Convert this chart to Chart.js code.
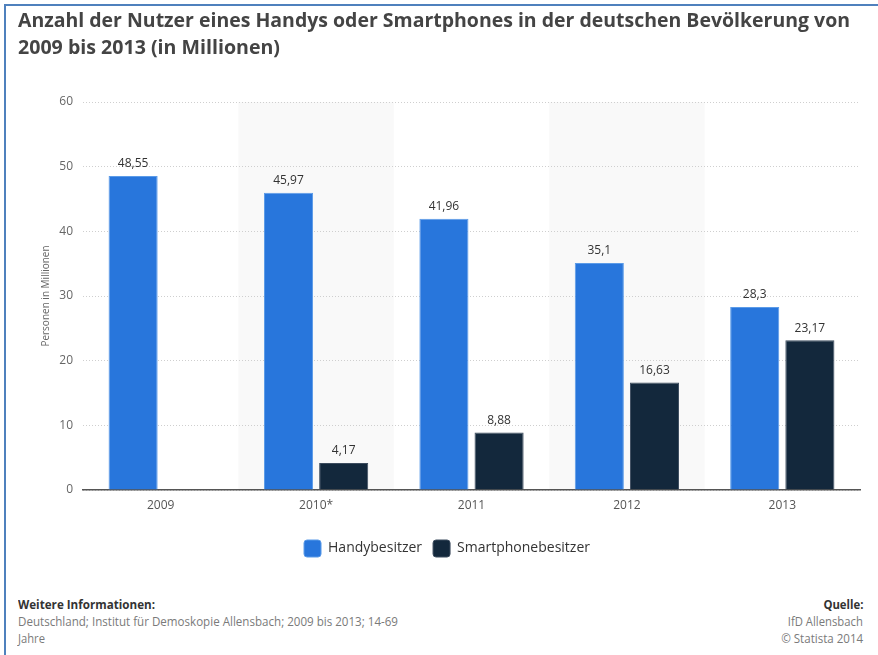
<!DOCTYPE html>
<html>
<head>
<meta charset="utf-8">
<script src="https://cdn.jsdelivr.net/npm/chart.js@4"></script>
<style>
  html,body{margin:0;padding:0;background:#fff;}
  #wrap{position:relative;width:878px;height:655px;overflow:hidden;font-family:"Open Sans",sans-serif;}
  #frame{position:absolute;left:4px;top:4px;right:0;bottom:0;border-top:2px solid #4f81bd;border-left:2px solid #4f81bd;}
  #chartbox{position:absolute;left:0;top:0;width:878px;height:580px;}
  .fit{position:absolute;white-space:nowrap;transform-origin:0 0;}
  .fitr{position:absolute;white-space:nowrap;transform-origin:100% 0;text-align:right;}
  .title{font-weight:bold;font-size:20px;color:#444;}
  .ft{font-size:12px;color:#7a7a7a;}
  .fb{font-size:12px;font-weight:bold;color:#333;}
</style>
</head>
<body>
<div id="wrap">
  <div id="frame"></div>
  <div id="chartbox"><canvas id="c" width="878" height="580"></canvas></div>
  <div class="fit title" style="left:18px;top:6px;" data-w="832">Anzahl der Nutzer eines Handys oder Smartphones in der deutschen Bevölkerung von</div>
  <div class="fit title" style="left:18px;top:33px;" data-w="262">2009 bis 2013 (in Millionen)</div>
  <div class="fit fb" style="left:18px;top:596px;" data-w="137">Weitere Informationen:</div>
  <div class="fit ft" style="left:18px;top:613px;" data-w="380">Deutschland; Institut für Demoskopie Allensbach; 2009 bis 2013; 14-69</div>
  <div class="fit ft" style="left:18px;top:630px;" data-w="27">Jahre</div>
  <div class="fitr fb" style="right:15px;top:596px;" data-w="40">Quelle:</div>
  <div class="fitr ft" style="right:15px;top:613px;" data-w="75">IfD Allensbach</div>
  <div class="fitr ft" style="right:15px;top:630px;" data-w="82">© Statista 2014</div>
</div>
<script>
const categories = ["2009", "2010*", "2011", "2012", "2013"];
const handyValues = [48.55, 45.97, 41.96, 35.1, 28.3];
const smartphoneValues = [null, 4.17, 8.88, 16.63, 23.17];
const seriesNames = ["Handybesitzer", "Smartphonebesitzer"];
const yTicks = [0, 10, 20, 30, 40, 50, 60];

// fit text widths
document.querySelectorAll('[data-w]').forEach(el => {
  const target = parseFloat(el.dataset.w);
  const w = el.getBoundingClientRect().width;
  if (w > 0) el.style.transform = 'scaleX(' + (target / w) + ')';
});

const fmt = v => String(v).replace('.', ',');

const bandPlugin = {
  id: 'bands',
  beforeDraw(chart) {
    const x = chart.scales.x, area = chart.chartArea, ctx = chart.ctx;
    const w = (x.right - x.left) / categories.length;
    ctx.save();
    ctx.fillStyle = '#f9f9f9';
    categories.forEach((c, i) => {
      if (i % 2 === 1) {
        const cx = x.getPixelForValue(i);
        ctx.fillRect(cx - w / 2, area.top, w, area.bottom - area.top);
      }
    });
    ctx.restore();
  }
};

const legendShift = {
  id: 'legendShift',
  afterLayout(chart) {
    if (chart.legend) { chart.legend.left += 17; chart.legend.right += 17; }
  }
};

const labelPlugin = {
  id: 'valueLabels',
  afterDatasetsDraw(chart) {
    const ctx = chart.ctx;
    ctx.save();
    ctx.font = '12px "Open Sans", sans-serif';
    ctx.fillStyle = '#333';
    ctx.textAlign = 'center';
    ctx.textBaseline = 'bottom';
    chart.data.datasets.forEach((ds, di) => {
      const meta = chart.getDatasetMeta(di);
      meta.data.forEach((el, i) => {
        const v = ds.data[i];
        if (v === null || v === undefined) return;
        ctx.fillText(fmt(v), el.x, el.y - 6);
      });
    });
    ctx.restore();
  }
};

new Chart(document.getElementById('c'), {
  type: 'bar',
  data: {
    labels: categories,
    datasets: [
      { label: seriesNames[0], data: handyValues, backgroundColor: '#2876dc', borderColor: '#5b9be8', borderWidth: 1 },
      { label: seriesNames[1], data: smartphoneValues, backgroundColor: '#13283c', borderColor: '#3c4c5e', borderWidth: 1 }
    ]
  },
  options: {
    responsive: false,
    animation: false,
    layout: { padding: { left: 0, right: 18, top: 102, bottom: 13 } },
    datasets: { bar: { categoryPercentage: 0.71, barPercentage: 0.89 } },
    plugins: {
      legend: {
        position: 'bottom',
        labels: {
          boxWidth: 17, boxHeight: 17, useBorderRadius: true, borderRadius: 3,
          padding: 11, color: '#333',
          font: { size: 14, family: '"Open Sans", sans-serif' }
        }
      },
      tooltip: { enabled: false }
    },
    scales: {
      x: {
        grid: { display: false, drawTicks: false },
        border: { display: true, color: '#555', width: 1.5 },
        ticks: { padding: 8, color: '#555', font: { size: 12, family: '"Open Sans", sans-serif' } },
        afterFit: s => { s.height = 39; }
      },
      y: {
        min: 0, max: 60,
        afterBuildTicks: s => { s.ticks = yTicks.map(v => ({ value: v })); },
        grid: { color: '#cfcfcf', drawTicks: false, lineWidth: 1 },
        border: { display: false, dash: [1, 2] },
        ticks: { padding: 10, color: '#666', font: { size: 12, family: '"Open Sans", sans-serif' } },
        title: { display: true, text: 'Personen in Millionen', color: '#666', font: { size: 10, family: '"Open Sans", sans-serif' }, padding: { top: 40, bottom: 0 } },
        afterFit: s => { s.width = 83; }
      }
    }
  },
  plugins: [bandPlugin, legendShift, labelPlugin]
});
</script>
</body>
</html>
